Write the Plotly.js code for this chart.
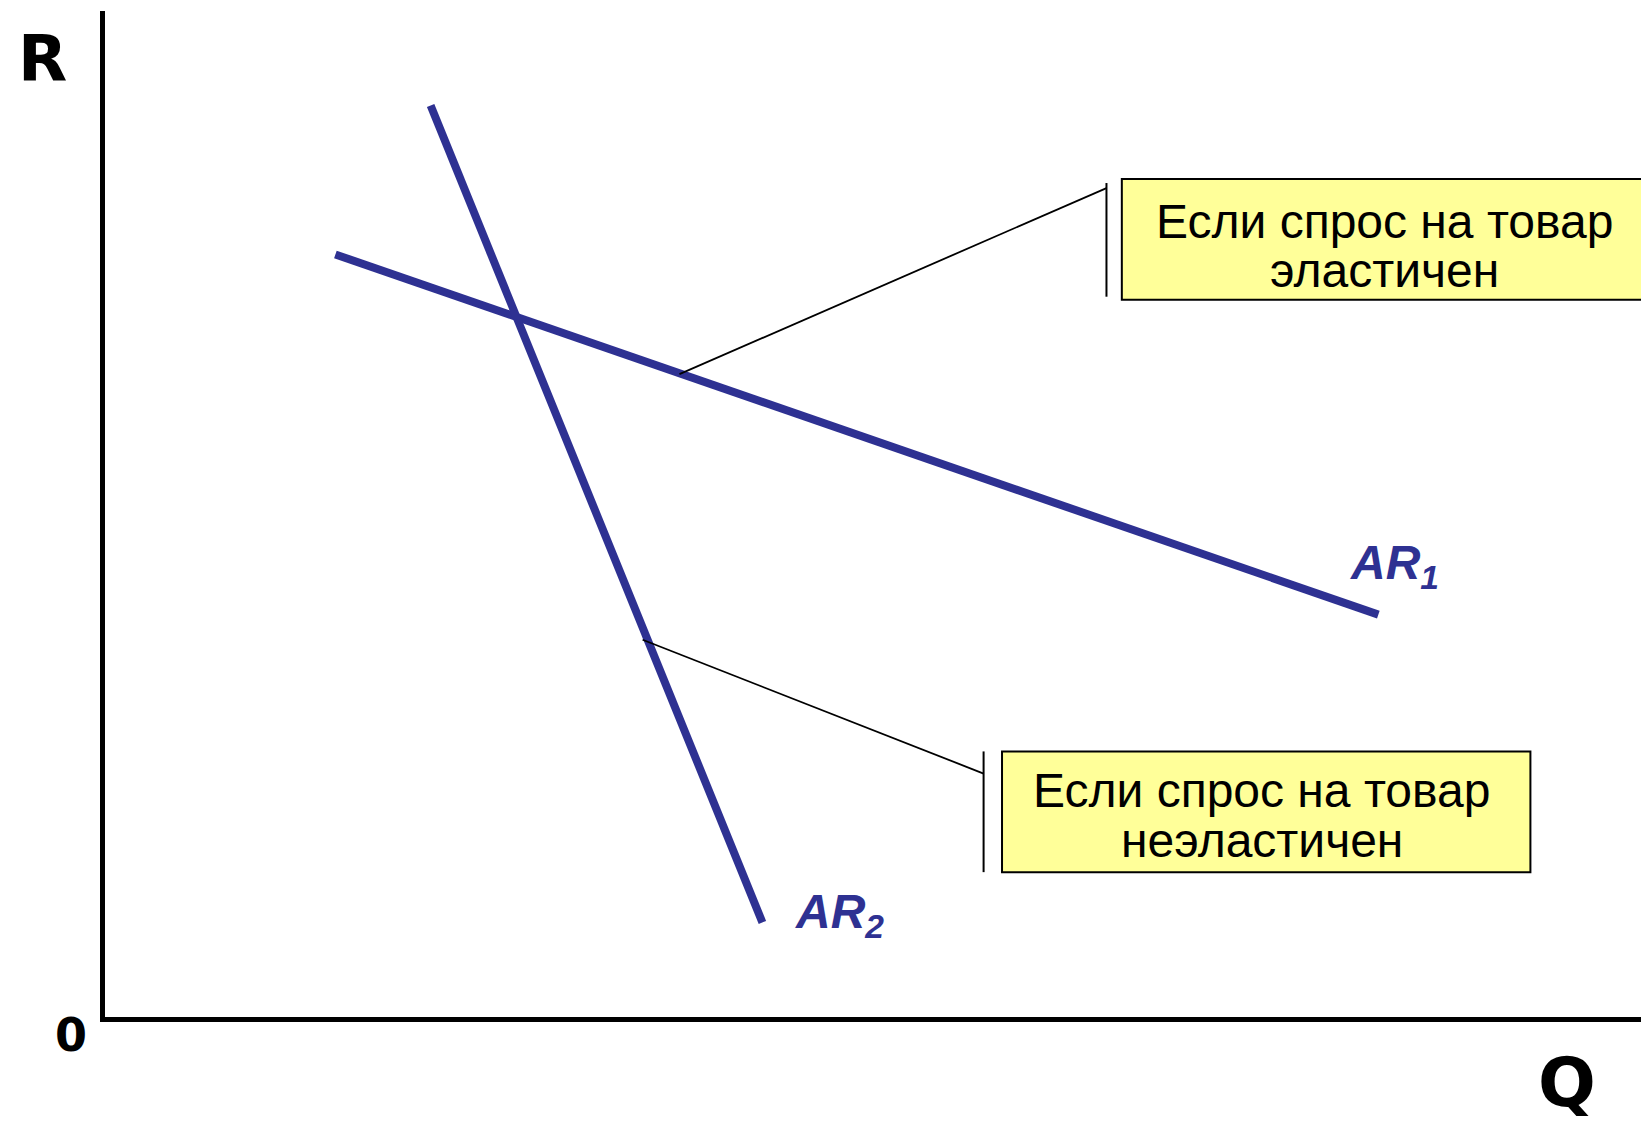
<!DOCTYPE html>
<html>
<head>
<meta charset="utf-8">
<script src="https://cdn.plot.ly/plotly-3.0.1.min.js"></script>
<style>html,body{margin:0;padding:0;background:#fff;}#chart{width:1641px;height:1125px;}</style>
</head>
<body>
<div id="chart"></div>
<script>
// Demand (average revenue) curves, in axis units (Q: 0-100, R: 0-100)
const ar1Q = [15.0, 82.9];
const ar1R = [75.8, 40.0];
const ar2Q = [21.2, 42.8];
const ar2R = [90.6, 9.4];

// Callout leader lines
const elasticLeadQ = [37.4, 65.2];
const elasticLeadR = [63.9, 82.4];
const inelasticLeadQ = [35.0, 57.2];
const inelasticLeadR = [37.5, 24.2];

// Callout texts (one entry per line)
const elasticLines = ["Если спрос на товар", "эластичен"];
const inelasticLines = ["Если спрос на товар", "неэластичен"];
const curveLabels = ["AR<sub>1</sub>", "AR<sub>2</sub>"];
const axisLabels = {y: "R", x: "Q", origin: "0"};

const blue = "#2e3192";
const fontArial = "Liberation Sans";

const traces = [
  {x: ar1Q, y: ar1R, mode: "lines", line: {color: blue, width: 8}, hoverinfo: "skip"},
  {x: ar2Q, y: ar2R, mode: "lines", line: {color: blue, width: 8}, hoverinfo: "skip"},
  {x: elasticLeadQ, y: elasticLeadR, mode: "lines", line: {color: "#000", width: 1.8}, hoverinfo: "skip"},
  {x: inelasticLeadQ, y: inelasticLeadR, mode: "lines", line: {color: "#000", width: 1.8}, hoverinfo: "skip"}
];

const shapes = [
  {type: "line", xref: "x", yref: "y", x0: 65.2, x1: 65.2, y0: 82.9, y1: 71.6, line: {color: "#000", width: 2}},
  {type: "line", xref: "x", yref: "y", x0: 57.2, x1: 57.2, y0: 26.4, y1: 14.4, line: {color: "#000", width: 2}},
  {type: "rect", xref: "x", yref: "y", x0: 66.2, x1: 100.5, y0: 83.3, y1: 71.3, fillcolor: "#ffff99", line: {color: "#000", width: 2}, layer: "below"},
  {type: "rect", xref: "x", yref: "y", x0: 58.4, x1: 92.8, y0: 26.4, y1: 14.4, fillcolor: "#ffff99", line: {color: "#000", width: 2}, layer: "below"}
];

const boxFont = {family: fontArial, size: 48, color: "#000"};
const annotations = [
  {x: 83.3, y: 79.1, xref: "x", yref: "y", xanchor: "center", yanchor: "middle", text: elasticLines[0], showarrow: false, font: boxFont},
  {x: 83.3, y: 74.2, xref: "x", yref: "y", xanchor: "center", yanchor: "middle", text: elasticLines[1], showarrow: false, font: boxFont},
  {x: 75.3, y: 22.5, xref: "x", yref: "y", xanchor: "center", yanchor: "middle", text: inelasticLines[0], showarrow: false, font: boxFont},
  {x: 75.3, y: 17.5, xref: "x", yref: "y", xanchor: "center", yanchor: "middle", text: inelasticLines[1], showarrow: false, font: boxFont},
  {x: 80.9, y: 44.8, xref: "x", yref: "y", xanchor: "left", yanchor: "middle", text: "<b><i>" + curveLabels[0] + "</i></b>", showarrow: false,
   font: {family: fontArial, size: 48, color: blue}},
  {x: 44.8, y: 10.1, xref: "x", yref: "y", xanchor: "left", yanchor: "middle", text: "<b><i>" + curveLabels[1] + "</i></b>", showarrow: false,
   font: {family: fontArial, size: 48, color: blue}},
  {x: -0.041, y: 0.952, xref: "paper", yref: "paper", xanchor: "center", yanchor: "middle", text: "<b>" + axisLabels.y + "</b>", showarrow: false,
   font: {family: "DejaVu Sans", size: 64, color: "#000"}},
  {x: -0.022, y: -0.018, xref: "paper", yref: "paper", xanchor: "center", yanchor: "middle", text: "<b>" + axisLabels.origin + "</b>", showarrow: false,
   font: {family: "DejaVu Sans", size: 46, color: "#000"}},
  {x: 0.952, y: -0.065, xref: "paper", yref: "paper", xanchor: "center", yanchor: "middle", text: "<b>" + axisLabels.x + "</b>", showarrow: false,
   font: {family: "DejaVu Sans", size: 68, color: "#000"}}
];

const layout = {
  width: 1641, height: 1125,
  margin: {l: 105, r: 0, t: 11, b: 108, pad: 0},
  paper_bgcolor: "#fff", plot_bgcolor: "#fff",
  showlegend: false,
  xaxis: {range: [0, 100], showline: true, linecolor: "#000", linewidth: 5, showgrid: false, zeroline: false, showticklabels: false, ticks: "", fixedrange: true},
  yaxis: {range: [0, 100], showline: true, linecolor: "#000", linewidth: 5, showgrid: false, zeroline: false, showticklabels: false, ticks: "", fixedrange: true},
  shapes: shapes,
  annotations: annotations
};

Plotly.newPlot("chart", traces, layout, {staticPlot: true});
</script>
</body>
</html>
